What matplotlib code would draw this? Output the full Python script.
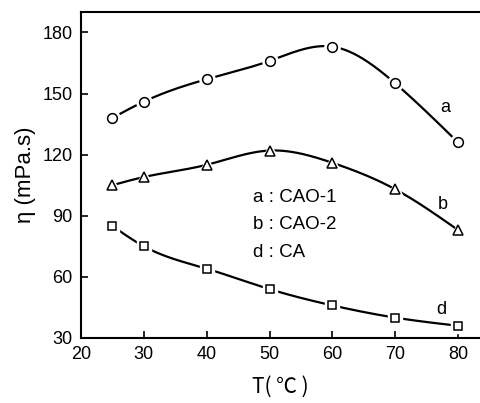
import numpy as np
import matplotlib
matplotlib.use("Agg")
import matplotlib.pyplot as plt

plt.rcParams['font.family'] = ['Liberation Sans', 'DejaVu Sans']

T = [25, 30, 40, 50, 60, 70, 80]
cao1 = [138, 146, 157, 166, 173, 155, 126]
cao2 = [105, 109, 115, 122, 116, 103, 83]
ca = [85, 75, 64, 54, 46, 40, 36]
series_labels = ['a', 'b', 'd']
legend_lines = ['a : CAO-1', 'b : CAO-2', 'd : CA']
x_ticks = [20, 30, 40, 50, 60, 70, 80]
y_ticks = [30, 60, 90, 120, 150, 180]


def natural_spline(x, y, n=300):
    x = np.asarray(x, float)
    y = np.asarray(y, float)
    k = len(x)
    h = np.diff(x)
    A = np.zeros((k, k))
    b = np.zeros(k)
    A[0, 0] = 1
    A[-1, -1] = 1
    for i in range(1, k - 1):
        A[i, i - 1] = h[i - 1]
        A[i, i] = 2 * (h[i - 1] + h[i])
        A[i, i + 1] = h[i]
        b[i] = 3 * ((y[i + 1] - y[i]) / h[i] - (y[i] - y[i - 1]) / h[i - 1])
    c = np.linalg.solve(A, b)
    xs = np.linspace(x[0], x[-1], n)
    ys = np.empty_like(xs)
    for j, xv in enumerate(xs):
        i = min(np.searchsorted(x, xv, side='right') - 1, k - 2)
        dx = xv - x[i]
        bi = (y[i + 1] - y[i]) / h[i] - h[i] * (2 * c[i] + c[i + 1]) / 3
        di = (c[i + 1] - c[i]) / (3 * h[i])
        ys[j] = y[i] + bi * dx + c[i] * dx ** 2 + di * dx ** 3
    return xs, ys


fig = plt.figure(figsize=(4.8, 4.03), dpi=100)
ax = fig.add_axes([81 / 480, 65 / 403, 1 - 81 / 480, 326 / 403])

markers = ['o', '^', 's']
sizes = [7, 7.5, 6]
for vals, m, s in zip([cao1, cao2, ca], markers, sizes):
    xs, ys = natural_spline(T, vals)
    ax.plot(xs, ys, color='black', lw=1.6, zorder=1)
    ax.plot(T, vals, linestyle='none', marker=m, markersize=s + 4,
            markerfacecolor='white', markeredgecolor='white', zorder=2)
    ax.plot(T, vals, linestyle='none', marker=m, markersize=s,
            markerfacecolor='white', markeredgecolor='black',
            markeredgewidth=1.1, zorder=3)

ax.set_xlim(20, 83.5)
ax.set_ylim(30, 190)
ax.set_xticks(x_ticks)
ax.set_yticks(y_ticks)
ax.tick_params(direction='in', length=5, width=1.2, labelsize=13, pad=6,
               top=False, right=False)
for sp in ['left', 'bottom', 'top']:
    ax.spines[sp].set_linewidth(1.5)
ax.spines['right'].set_visible(False)

ax.set_xlabel('T( ℃ )', fontsize=15, family=['Noto Sans CJK SC', 'DejaVu Sans'], labelpad=9)
ax.set_ylabel('η (mPa.s)', fontsize=16, labelpad=5)

ax.text(78.0, 143, series_labels[0], fontsize=13, ha='center', va='center')
ax.text(77.6, 95.7, series_labels[1], fontsize=13, ha='center', va='center')
ax.text(77.3, 44, series_labels[2], fontsize=13, ha='center', va='center')

for i, t in enumerate(legend_lines):
    ax.text(47.4, 99.2 - i * 13.5, t, fontsize=13.5, va='center')

fig.savefig('out.png', dpi=100)
